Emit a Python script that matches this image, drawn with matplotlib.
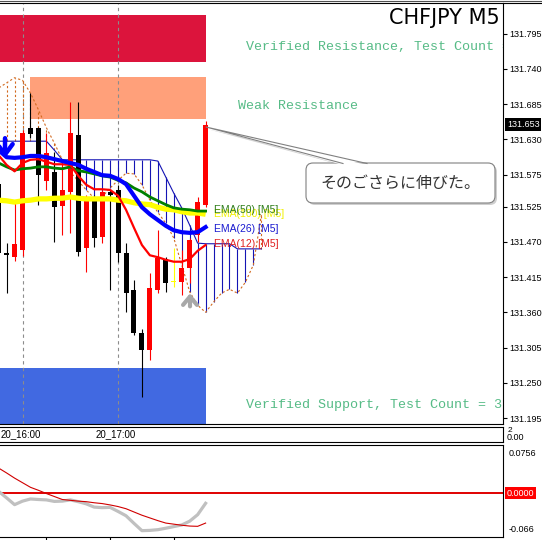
import matplotlib.pyplot as plt
import matplotlib.patches as mpatches
from matplotlib.lines import Line2D
from matplotlib.transforms import Affine2D
import numpy as np

plt.rcParams['font.family'] = ['Liberation Sans', 'DejaVu Sans']

# CHFJPY M5 bars, oldest first
opens = [131.560, 131.453, 131.446, 131.457, 131.648, 131.648, 131.565, 131.579, 131.526,
         131.548, 131.637, 131.460, 131.535, 131.478, 131.548, 131.551, 131.453, 131.395,
         131.328, 131.301, 131.395, 131.443, 131.407, 131.407, 131.429, 131.481, 131.528]
highs = [131.562, 131.468, 131.531, 131.645, 131.702, 131.649, 131.640, 131.610, 131.598,
         131.688, 131.688, 131.543, 131.543, 131.551, 131.551, 131.559, 131.468, 131.410,
         131.334, 131.421, 131.488, 131.446, 131.460, 131.457, 131.476, 131.540, 131.659]
lows = [131.410, 131.390, 131.440, 131.448, 131.632, 131.528, 131.551, 131.470, 131.481,
        131.484, 131.448, 131.423, 131.462, 131.468, 131.395, 131.439, 131.361, 131.325,
        131.228, 131.286, 131.390, 131.392, 131.400, 131.387, 131.406, 131.470, 131.524]
closes = [131.452, 131.449, 131.467, 131.640, 131.638, 131.574, 131.609, 131.524, 131.551,
          131.640, 131.454, 131.535, 131.476, 131.548, 131.543, 131.453, 131.390, 131.328,
          131.301, 131.398, 131.445, 131.406, 131.407, 131.429, 131.473, 131.532, 131.653]

ema12 = [131.605, 131.590, 131.580, 131.593, 131.598, 131.599, 131.595, 131.591, 131.591,
         131.590, 131.573, 131.559, 131.552, 131.552, 131.551, 131.542, 131.520, 131.492,
         131.465, 131.449, 131.446, 131.442, 131.439, 131.439, 131.443, 131.456, 131.465]
ema26 = [131.613, 131.602, 131.601, 131.602, 131.604, 131.604, 131.602, 131.599, 131.596,
         131.593, 131.590, 131.584, 131.579, 131.574, 131.573, 131.568, 131.560, 131.542,
         131.524, 131.513, 131.504, 131.495, 131.488, 131.485, 131.484, 131.485, 131.493]
ema50 = [131.593, 131.587, 131.582, 131.584, 131.585, 131.587, 131.587, 131.585, 131.584,
         131.587, 131.581, 131.579, 131.576, 131.573, 131.571, 131.566, 131.562, 131.554,
         131.548, 131.540, 131.534, 131.528, 131.523, 131.521, 131.520, 131.518, 131.518]
ema100 = [131.535, 131.534, 131.532, 131.534, 131.535, 131.537, 131.537, 131.538, 131.538,
          131.540, 131.538, 131.537, 131.537, 131.537, 131.537, 131.535, 131.534, 131.531,
          131.529, 131.528, 131.524, 131.521, 131.520, 131.517, 131.515, 131.515, 131.513]

# ichimoku cloud, runs a few bars past the last candle
span_a = [131.627, 131.627, 131.627, 131.627, 131.627, 131.627, 131.627, 131.613, 131.598,
          131.598, 131.598, 131.598, 131.598, 131.598, 131.598, 131.598, 131.598, 131.598,
          131.598, 131.598, 131.596, 131.571, 131.546, 131.523, 131.496, 131.468, 131.467,
          131.467, 131.467, 131.467, 131.459, 131.459, 131.459, 131.459]
span_b = [131.710, 131.718, 131.726, 131.722, 131.702, 131.676, 131.648, 131.624, 131.598,
          131.579, 131.565, 131.551, 131.538, 131.540, 131.554, 131.566, 131.577, 131.576,
          131.559, 131.535, 131.516, 131.499, 131.476, 131.434, 131.392, 131.371, 131.360,
          131.376, 131.390, 131.396, 131.390, 131.407, 131.434, 131.512]

# supply / demand zones
zone_names = ['Verified Resistance, Test Count = 3', 'Weak Resistance',
              'Verified Support, Test Count = 3']
zone_top = [131.824, 131.727, 131.273]
zone_bottom = [131.751, 131.662, 131.150]
zone_label_price = [131.774, 131.682, 131.215]

# oscillator sub window
macd_main = [0.003, -0.009, -0.0215, -0.015, -0.011, -0.012, -0.0127, -0.0155, -0.015,
             -0.0127, -0.016, -0.020, -0.026, -0.027, -0.0265, -0.034, -0.042, -0.056,
             -0.0695, -0.069, -0.0677, -0.065, -0.062, -0.059, -0.052, -0.040, -0.019]
macd_signal = [0.046, 0.037, 0.0275, 0.019, 0.0105, 0.005, -0.001, -0.0065, -0.012,
               -0.0135, -0.015, -0.016, -0.018, -0.0195, -0.022, -0.025, -0.029, -0.035,
               -0.041, -0.046, -0.051, -0.0555, -0.0575, -0.0595, -0.061, -0.0615, -0.0555]

price_ticks = [131.195, 131.250, 131.305, 131.360, 131.415, 131.470, 131.525,
               131.575, 131.630, 131.685, 131.740, 131.795]
time_labels = ['20_16:00', '20_17:00']
separators = [3, 15]

W, H = 542, 540
fig = plt.figure(figsize=(W / 100, H / 100), dpi=100)
pix = Affine2D().scale(1 / W, -1 / H).translate(0, 1) + fig.transFigure


def rect(l, t, r, b):
    return [l / W, 1 - b / H, (r - l) / W, (b - t) / H]


ax = fig.add_axes(rect(0, 3, 503, 424))
ax_t = fig.add_axes(rect(0, 427, 503, 442))
ax_m = fig.add_axes(rect(0, 445, 503, 537))
XL = (0.17, 63.36)
for a in (ax, ax_t, ax_m):
    a.set_xlim(*XL)
    for s in a.spines.values():
        s.set_linewidth(0.8)
        s.set_color('black')
    a.spines['left'].set_visible(False)

ax.set_ylim(131.1858, 131.8426)

x = np.arange(len(opens))
o, h, l, c = map(np.array, (opens, highs, lows, closes))
last = len(opens) - 1 + 0.05

# zones
for top, bot, x0, col in zip(zone_top, zone_bottom, [-2, 3.94, -2],
                             ['#dc143c', '#ffa07a', '#4169e1']):
    ax.add_patch(mpatches.Rectangle((x0, bot), last - x0, top - bot, color=col, lw=0, zorder=1))
for name, p, lx in zip(zone_names, zone_label_price, [31.08, 30.07, 31.08]):
    ax.text(lx, p, name, family='Liberation Mono', fontsize=9.6, color='#56bb86',
            va='center', ha='left', clip_on=True, zorder=7)

for s in separators:
    ax.axvline(s, color='#8c8c8c', lw=0.8, ls=(0, (3, 3)), zorder=2)

# cloud drawn as vertical hatch between the two spans
xc = np.arange(len(span_a))
sa, sb = np.array(span_a), np.array(span_b)
up = sa >= sb
ax.vlines(xc[up], sb[up], sa[up], color='#1414b4', lw=0.8, zorder=3)
ax.vlines(xc[~up], sa[~up], sb[~up], color='#d2691e', lw=0.8, linestyles=(0, (2, 2)), zorder=3)
ax.plot(xc, sa, color='#1414b4', lw=0.8, zorder=3)
ax.plot(xc, sb, color='#d2691e', lw=0.8, ls=(0, (2, 2)), zorder=3)

# candles
cols = np.where(c > o, '#ff0000', np.where(c < o, '#000000', '#ffff00'))
ax.vlines(x, l, h, colors=cols, lw=0.8, zorder=4)
ax.bar(x, np.maximum(np.abs(c - o), 0.0015), bottom=np.minimum(o, c), width=0.63,
       color=cols, lw=0, zorder=4)

# moving averages
xe = np.arange(len(ema12))
ax.plot(xe, ema100, color='#ffff00', lw=3.8, zorder=5, solid_capstyle='butt')
ax.plot(xe, ema50, color='#008000', lw=2.0, zorder=5)
ax.plot(xe, ema12, color='#ff0000', lw=1.6, zorder=5)
ax.plot(xe, ema26, color='#0000ff', lw=3.0, zorder=5)

lab_x = 27.06
ax.text(lab_x, ema100[-1], 'EMA(100) [M5]', color='#f0f000', fontsize=7.5, va='center', zorder=8)
ax.text(lab_x, ema50[-1] + 0.002, 'EMA(50) [M5]', color='#2e7d1a', fontsize=7.5, va='center', zorder=8)
ax.text(lab_x, ema26[-1] - 0.003, 'EMA(26) [M5]', color='#1a1ad0', fontsize=7.5, va='center', zorder=8)
ax.text(lab_x, ema12[-1] + 0.001, 'EMA(12) [M5]', color='#e02020', fontsize=7.5, va='center', zorder=8)

# signal arrows
ax.annotate('', xy=(0.8, 131.596), xytext=(0.8, 131.636),
            arrowprops=dict(arrowstyle='->,head_length=0.75,head_width=0.55', color='#0000ff', lw=3.2),
            zorder=6)
ax.annotate('', xy=(24.04, 131.394), xytext=(24.04, 131.365),
            arrowprops=dict(arrowstyle='->,head_length=0.6,head_width=0.5', color='#a8a8a8', lw=3),
            zorder=6)

ax.text(0.994, 0.964, 'CHFJPY M5', transform=ax.transAxes, ha='right', va='center',
        fontsize=15, family='DejaVu Sans', color='black', zorder=9)

# price scale
ax.set_xticks([])
ax.yaxis.tick_right()
ax.set_yticks(price_ticks)
ax.set_yticklabels(['%.3f' % p for p in price_ticks])
ax.tick_params(axis='y', length=3, width=0.8, pad=1.5, labelsize=6.5, direction='out')
ax.text(1.008, closes[-1], '%.3f' % closes[-1], transform=ax.get_yaxis_transform(),
        ha='left', va='center', fontsize=6.5, color='white',
        bbox=dict(fc='black', ec='none', pad=1.2))

# time strip
ax_t.set_ylim(0, 1)
ax_t.set_xticks([])
ax_t.set_yticks([])
for t, lx in zip(time_labels, [0.25, 12.23]):
    ax_t.text(lx, 0.5, t, fontsize=7, va='center', ha='left')
fig.text(508, 431, '2', transform=pix, fontsize=6, va='center')
fig.text(507, 437, '0.00', transform=pix, fontsize=6.5, va='center')

# oscillator window
xm = np.arange(len(macd_main))
ax_m.set_ylim(-0.0812, 0.0886)
ax_m.axhline(0, color='#e00000', lw=1.4, zorder=2)
ax_m.plot(xm, macd_main, color='#c0c0c0', lw=2.3, zorder=3)
ax_m.plot(xm, macd_signal, color='#d00000', lw=0.8, zorder=4)
ax_m.yaxis.tick_right()
ax_m.set_yticks([0.0756, -0.066])
ax_m.set_yticklabels(['0.0756', '-0.066'])
ax_m.tick_params(axis='y', length=0, pad=4, labelsize=6.5)
ax_m.set_xticks([6, 14, 22])
ax_m.tick_params(axis='x', length=3, width=0.8, direction='out', labelbottom=False)
ax_m.text(1.008, 0, '0.0000', transform=ax_m.get_yaxis_transform(), ha='left', va='center',
          fontsize=6.5, color='white', bbox=dict(fc='#ff0000', ec='none', pad=1.2))

# window edges
fig.add_artist(Line2D([0, W], [0.5, 0.5], transform=pix, color='#505050', lw=0.8))
fig.add_artist(Line2D([503, W], [3, 3], transform=pix, color='black', lw=0.8))

# callout
tip = (206, 127)
fig.add_artist(mpatches.Polygon([(tip[0] + 1, tip[1] + 2), (345, 166), (369, 166)], closed=True,
                                transform=pix, fc='#d4d4d4', ec='none', zorder=19))
fig.add_artist(mpatches.FancyBboxPatch((308, 165), 189, 40, boxstyle='round,pad=0,rounding_size=7',
                                       transform=pix, fc='#cfcfcf', ec='none', zorder=19))
fig.add_artist(mpatches.FancyBboxPatch((306, 163), 189, 40, boxstyle='round,pad=0,rounding_size=7',
                                       transform=pix, fc='white', ec='#808080', lw=0.8, zorder=20))
fig.add_artist(mpatches.Polygon([tip, (343, 165), (367, 165)], closed=True,
                                transform=pix, fc='white', ec='none', zorder=21))
fig.add_artist(Line2D([343, tip[0], 367], [163.5, tip[1], 163.5], transform=pix,
                      color='#808080', lw=0.8, zorder=22))
fig.text(400, 183, 'そのごさらに伸びた。', transform=pix, ha='center', va='center',
         fontsize=11.5, color='#333333', family=['Noto Sans CJK JP', 'DejaVu Sans'], zorder=23)

fig.savefig('out.png', dpi=100)
